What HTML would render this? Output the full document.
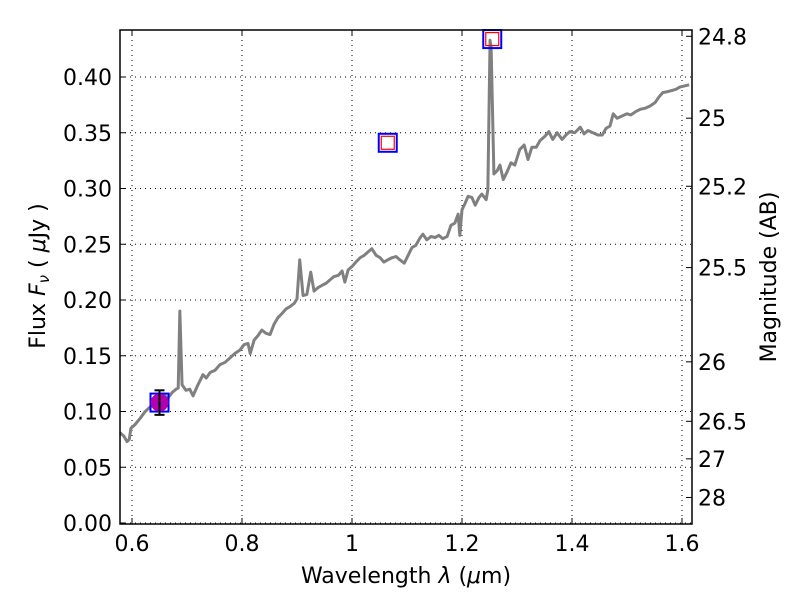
<!DOCTYPE html>
<html><head><meta charset="utf-8"><style>
body{margin:0;background:#fff}
svg text{font-family:"DejaVu Sans","Liberation Sans",sans-serif;font-size:22px;fill:#000}
</style></head><body>
<svg id="c" width="800" height="600" xmlns="http://www.w3.org/2000/svg"></svg>
<script>
const wav=[0.578,0.585,0.591,0.595,0.598,0.605,0.615,0.624,0.633,0.642,0.651,0.660,0.665,0.673,0.680,0.684,0.687,0.691,0.698,0.705,0.711,0.718,0.724,0.729,0.735,0.742,0.751,0.760,0.769,0.778,0.787,0.796,0.804,0.811,0.815,0.822,0.829,0.836,0.844,0.851,0.858,0.865,0.873,0.880,0.887,0.895,0.900,0.905,0.911,0.918,0.925,0.931,0.938,0.945,0.953,0.960,0.967,0.975,0.982,0.987,0.993,1.000,1.007,1.015,1.022,1.029,1.036,1.044,1.051,1.058,1.065,1.073,1.080,1.087,1.095,1.102,1.109,1.116,1.124,1.129,1.136,1.144,1.151,1.158,1.165,1.173,1.180,1.187,1.193,1.196,1.200,1.205,1.211,1.218,1.224,1.231,1.236,1.244,1.247,1.251,1.253,1.258,1.264,1.269,1.275,1.282,1.289,1.296,1.305,1.313,1.320,1.327,1.335,1.342,1.351,1.358,1.365,1.373,1.382,1.389,1.396,1.405,1.415,1.422,1.429,1.438,1.447,1.455,1.462,1.469,1.475,1.482,1.491,1.500,1.507,1.516,1.524,1.533,1.542,1.551,1.558,1.565,1.575,1.582,1.589,1.596,1.613];
const flux=[0.081,0.078,0.073,0.075,0.085,0.088,0.094,0.100,0.104,0.108,0.109,0.114,0.112,0.117,0.120,0.121,0.190,0.124,0.119,0.120,0.114,0.122,0.128,0.133,0.130,0.135,0.137,0.142,0.144,0.148,0.152,0.155,0.160,0.161,0.152,0.164,0.168,0.173,0.170,0.169,0.178,0.184,0.188,0.192,0.194,0.197,0.201,0.236,0.204,0.205,0.225,0.208,0.211,0.213,0.215,0.218,0.221,0.222,0.226,0.216,0.227,0.230,0.234,0.238,0.240,0.243,0.246,0.240,0.238,0.234,0.236,0.238,0.239,0.236,0.233,0.240,0.247,0.249,0.256,0.259,0.254,0.257,0.256,0.258,0.255,0.257,0.267,0.269,0.277,0.258,0.281,0.286,0.293,0.292,0.285,0.292,0.295,0.290,0.299,0.433,0.426,0.313,0.316,0.321,0.308,0.315,0.323,0.321,0.335,0.339,0.326,0.337,0.337,0.343,0.347,0.351,0.344,0.350,0.344,0.348,0.351,0.350,0.355,0.349,0.352,0.350,0.348,0.348,0.354,0.356,0.367,0.363,0.365,0.367,0.366,0.369,0.371,0.372,0.374,0.377,0.382,0.386,0.387,0.388,0.389,0.391,0.393];
const photWav=[1.065,1.255];
const photFlux=[0.341,0.434];
const measWav=[0.65];
const measFlux=[0.108];
const measErr=[0.011];
const xTicks=[0.6,0.8,1.0,1.2,1.4,1.6];
const xTickLabels=["0.6","0.8","1","1.2","1.4","1.6"];
const yTicks=[0,0.05,0.1,0.15,0.2,0.25,0.3,0.35,0.4];
const magTicks=[24.8,25,25.2,25.5,26,26.5,27,28];

const L=120,R=692,T=30,B=524;
const X=v=>132+(v-0.6)*550;
const Y=v=>523-v*1115;
const svg=document.getElementById('c');
const NS='http://www.w3.org/2000/svg';
function mk(t,a,p){const e=document.createElementNS(NS,t);for(const k in a)e.setAttribute(k,a[k]);(p||svg).appendChild(e);return e;}

xTicks.forEach(v=>{const e=mk('line',{x1:X(v),x2:X(v),y1:T,y2:B,stroke:'#000','stroke-width':1,'stroke-dasharray':'1,4'});

});
yTicks.forEach(v=>{const e=mk('line',{x1:L,x2:R,y1:Y(v),y2:Y(v),stroke:'#000','stroke-width':1,'stroke-dasharray':'1,4'});

});

const pl=mk('polyline',{points:wav.map((w,i)=>X(w)+','+Y(flux[i])).join(' '),fill:'none',stroke:'#808080','stroke-width':3,'stroke-linejoin':'round'});



photWav.forEach((w,i)=>{const g=mk('g',{});


mk('rect',{x:X(w)-9,y:Y(photFlux[i])-9,width:18,height:18,fill:'none',stroke:'#00f','stroke-width':2},g);
mk('rect',{x:X(w)-6.5,y:Y(photFlux[i])-6.5,width:13,height:13,fill:'none',stroke:'#f00','stroke-width':1.2},g);});
measWav.forEach((w,i)=>{const g=mk('g',{});


mk('rect',{x:X(w)-9,y:Y(measFlux[i])-9,width:18,height:18,fill:'none',stroke:'#00f','stroke-width':2},g);
mk('circle',{cx:X(w),cy:Y(measFlux[i]),r:9,fill:'#b000b0'},g);
const y1=Y(measFlux[i]-measErr[i]),y2=Y(measFlux[i]+measErr[i]);
mk('line',{x1:X(w),x2:X(w),y1:y1,y2:y2,stroke:'#000','stroke-width':2},g);
mk('line',{x1:X(w)-5,x2:X(w)+5,y1:y1,y2:y1,stroke:'#000','stroke-width':2},g);
mk('line',{x1:X(w)-5,x2:X(w)+5,y1:y2,y2:y2,stroke:'#000','stroke-width':2},g);});

const fr=mk('rect',{x:L,y:T,width:R-L,height:B-T,fill:'none',stroke:'#000','stroke-width':1.5});



xTicks.forEach((v,i)=>{mk('line',{x1:X(v),x2:X(v),y1:B,y2:B-6,stroke:'#000'});mk('line',{x1:X(v),x2:X(v),y1:T,y2:T+6,stroke:'#000'});
const t=mk('text',{x:X(v),y:B+27,'text-anchor':'middle'});t.textContent=xTickLabels[i];

});
yTicks.forEach(v=>{mk('line',{x1:L,x2:L+6,y1:Y(v),y2:Y(v),stroke:'#000'});
const t=mk('text',{x:L-8,y:Y(v)+8,'text-anchor':'end'});t.textContent=v.toFixed(2);

});
magTicks.forEach(m=>{const f=Math.pow(10,(23.9-m)/2.5);const y=Y(f);
mk('line',{x1:R,x2:R-6,y1:y,y2:y,stroke:'#000'});
const t=mk('text',{x:R+6,y:y+8});t.textContent=String(m);

});

let t=mk('text',{x:406,y:583,'text-anchor':'middle'});t.innerHTML='Wavelength  <tspan font-style="italic">λ</tspan> (<tspan font-style="italic">μ</tspan>m)';


t=mk('text',{x:0,y:0,'text-anchor':'middle',transform:'translate(45,276) rotate(-90)'});t.innerHTML='Flux  <tspan font-style="italic">F</tspan><tspan font-style="italic" font-size="15" dy="4">ν</tspan><tspan dy="-4">  ( </tspan><tspan font-style="italic">μ</tspan>Jy )';


t=mk('text',{x:0,y:0,'text-anchor':'middle',transform:'translate(776,277) rotate(-90)'});t.textContent='Magnitude (AB)';


</script>
</body></html>
